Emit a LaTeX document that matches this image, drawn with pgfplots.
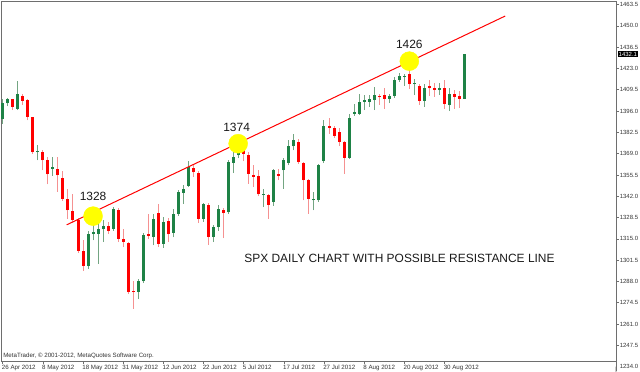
\documentclass[border=0pt]{standalone}
\usepackage{fontspec}
\setmainfont{Liberation Sans}
\usepackage{pgfplots}
\usepackage{pgfplotstable}
\pgfplotsset{compat=1.18}

\definecolor{bull}{RGB}{30,130,70}
\definecolor{bullwick}{RGB}{115,165,130}
\definecolor{bear}{RGB}{255,0,0}
\definecolor{bearwick}{RGB}{245,145,145}
\definecolor{frame}{RGB}{110,110,110}
\definecolor{hilite}{RGB}{255,255,0}

% bullish candles: index, open, high, low, close
\pgfplotstableread{
i O H L C
0 1391.2 1403.9 1388.0 1400.8
1 1400.8 1404.5 1399.0 1403.5
3 1397.6 1415.1 1396.5 1406.5
7 1370.0 1374.7 1364.8 1370.8
10 1359.2 1366.9 1355.0 1360.3
17 1298.1 1320.0 1296.0 1318.2
18 1318.0 1332.0 1314.0 1319.3
19 1318.2 1328.8 1299.2 1321.0
20 1321.0 1326.7 1312.9 1323.1
22 1321.4 1335.5 1320.0 1334.1
27 1281.2 1289.6 1276.9 1288.6
28 1288.1 1319.0 1287.0 1317.6
30 1316.1 1330.9 1310.8 1327.7
32 1311.8 1328.8 1309.3 1326.0
34 1318.8 1334.0 1316.0 1330.9
35 1330.9 1346.0 1329.5 1344.7
36 1344.2 1349.3 1337.2 1346.3
37 1348.5 1364.3 1347.8 1360.5
40 1327.7 1338.0 1326.0 1337.2
42 1316.1 1324.0 1312.9 1322.4
43 1322.4 1336.2 1320.0 1334.1
45 1332.0 1365.0 1331.0 1363.7
46 1363.2 1370.1 1356.7 1366.9
47 1367.9 1377.4 1366.0 1375.3
52 1343.0 1346.8 1335.1 1343.7
54 1338.3 1359.5 1336.0 1358.4
56 1358.4 1366.4 1346.8 1364.8
57 1363.1 1377.4 1361.6 1373.6
58 1373.6 1381.3 1371.1 1377.4
62 1339.4 1344.7 1333.0 1340.4
63 1339.4 1362.5 1338.5 1361.6
64 1364.3 1390.1 1363.0 1386.4
69 1366.4 1394.4 1365.5 1391.7
70 1394.4 1400.7 1393.0 1395.5
71 1394.4 1407.1 1393.5 1401.8
72 1401.8 1406.0 1396.5 1403.3
73 1401.8 1406.0 1398.6 1403.9
74 1402.9 1411.3 1396.5 1406.0
77 1403.5 1407.0 1401.0 1405.6
78 1405.6 1417.7 1404.5 1415.6
79 1415.6 1419.8 1414.5 1418.1
80 1417.7 1419.5 1412.0 1418.3
82 1413.0 1416.6 1406.0 1413.9
84 1402.4 1413.0 1398.6 1410.9
87 1409.2 1413.5 1406.0 1410.7
89 1399.7 1410.3 1396.0 1406.7
92 1403.9 1432.1 1403.5 1431.9
}\upc

% bearish candles
\pgfplotstableread{
i O H L C
2 1403.5 1403.8 1396.5 1398.6
4 1405.4 1406.5 1400.0 1402.4
5 1402.9 1403.5 1390.0 1392.3
6 1391.9 1392.5 1369.0 1370.0
8 1370.0 1371.0 1358.4 1364.8
9 1364.8 1366.9 1349.5 1355.9
11 1359.5 1366.9 1344.7 1355.2
12 1353.5 1358.0 1339.0 1340.4
13 1340.4 1346.8 1327.7 1333.0
14 1332.6 1343.6 1325.0 1326.7
15 1326.7 1328.0 1306.0 1307.6
16 1307.6 1314.0 1294.9 1298.1
21 1323.1 1326.0 1318.0 1319.9
23 1333.0 1334.5 1312.9 1315.0
24 1315.0 1321.4 1309.7 1312.9
25 1312.3 1313.0 1280.0 1281.2
26 1282.2 1288.6 1270.6 1281.2
29 1318.2 1330.9 1315.0 1316.7
31 1331.3 1337.2 1309.7 1311.8
33 1326.2 1328.0 1312.9 1317.8
38 1360.1 1361.6 1354.2 1357.1
39 1356.7 1358.0 1325.0 1327.7
41 1336.6 1337.5 1311.4 1316.1
44 1333.6 1334.5 1315.4 1331.3
48 1374.7 1376.0 1364.1 1369.0
49 1367.9 1370.1 1350.0 1356.3
50 1355.2 1361.6 1347.8 1354.2
51 1354.6 1358.4 1342.0 1343.2
53 1342.5 1343.5 1327.7 1336.6
55 1356.3 1359.5 1352.0 1355.0
59 1376.4 1378.0 1362.5 1363.7
60 1363.3 1364.0 1339.4 1352.1
61 1352.1 1353.0 1330.9 1340.4
65 1386.4 1391.8 1381.7 1385.5
66 1385.5 1386.4 1379.0 1380.2
67 1382.8 1385.0 1373.7 1376.4
68 1376.4 1377.0 1356.3 1366.4
75 1405.4 1407.0 1400.0 1404.6
76 1406.0 1410.3 1397.6 1403.9
81 1419.4 1426.1 1410.0 1413.0
83 1411.7 1413.0 1400.0 1402.4
85 1411.7 1415.6 1405.4 1410.3
86 1410.3 1413.9 1405.0 1409.2
88 1410.3 1415.6 1397.6 1400.3
90 1406.7 1409.2 1397.6 1405.0
91 1405.4 1408.8 1398.2 1403.9
}\downc

\begin{document}
\begin{tikzpicture}
\begin{axis}[
  at={(0,0)}, anchor=south west,
  scale only axis, width=614.5bp, height=360bp,
  xmin=-0.239, xmax=122.17, ymin=1237.6, ymax=1465.7,
  clip=false,
  axis line style={frame, line width=0.8bp},
  xtick pos=bottom, ytick pos=right,
  xticklabel pos=lower, yticklabel pos=right,
  tick align=outside, major tick length=3bp,
  tick style={frame, line width=0.6bp},
  xtick={0,8,16,24,32,40,48,56,64,72,80,88},
  xticklabels={26 Apr 2012,8 May 2012,18 May 2012,31 May 2012,12 Jun 2012,22 Jun 2012,5 Jul 2012,17 Jul 2012,27 Jul 2012,8 Aug 2012,20 Aug 2012,30 Aug 2012},
  xticklabel style={font=\fontsize{6.2}{7}\selectfont, anchor=north west, xshift=-1.5bp, inner sep=0.6bp, text=black!80},
  ytick={1247.5,1261,1274.5,1288,1301.5,1315,1328.5,1342,1355.5,1369,1382.5,1396,1409.5,1423,1436.5,1450,1463.5},
  yticklabels={1247.5,1261.0,1274.5,1288.0,1301.5,1315.0,1328.5,1342.0,1355.5,1369.0,1382.5,1396.0,1409.5,1423.0,1436.5,1450.0,1463.5},
  yticklabel style={font=\fontsize{6}{7}\selectfont, anchor=west, inner sep=0.6bp, text=black!80},
  candle/.style={draw=none, no marks, forget plot,
    error bars/y dir=plus, error bars/y explicit, error bars/error mark=none},
]
% highlight circles
\addplot[only marks, color=hilite, mark=*, mark size=9.5bp, forget plot]
  coordinates {(18,1329.4) (46.9,1375.3) (81,1427.6)};

% wicks
\addplot[candle, error bars/error bar style={draw=bullwick, line width=1bp}]
  table[x=i, y=L, y error plus expr=\thisrow{H}-\thisrow{L}] {\upc};
\addplot[candle, error bars/error bar style={draw=bearwick, line width=1bp}]
  table[x=i, y=L, y error plus expr=\thisrow{H}-\thisrow{L}] {\downc};

% bodies
\addplot[candle, error bars/error bar style={draw=bull, line width=3bp}]
  table[x=i, y=O, y error plus expr={max(\thisrow{C}-\thisrow{O},0.65)}] {\upc};
\addplot[candle, error bars/error bar style={draw=bear, line width=3bp}]
  table[x=i, y=C, y error plus expr={max(\thisrow{O}-\thisrow{C},0.65)}] {\downc};

% resistance line
\addplot[red, line width=1bp] coordinates {(12.75,1323.9) (100.1,1456.2)};

% annotations
\node[font=\fontsize{12}{14}\selectfont, text=black!90] at (axis cs:18,1341.9) {1328};
\node[font=\fontsize{12}{14}\selectfont, text=black!90] at (axis cs:46.6,1385.5) {1374};
\node[font=\fontsize{12}{14}\selectfont, text=black!90] at (axis cs:81,1438.2) {1426};
\node[font=\fontsize{12}{14}\selectfont, text=black!90] at (axis cs:79.04,1302.7) {SPX DAILY CHART WITH POSSIBLE RESISTANCE LINE};
\node[font=\fontsize{6.2}{7}\selectfont, text=black!80, anchor=west, inner sep=0.6bp] at (axis cs:-0.239,1240.75) [xshift=1bp] {MetaTrader, © 2001-2012, MetaQuotes Software Corp.};

% extended price scale and current price box
\draw[frame, line width=0.8bp] (axis cs:122.17,1237.6) -- (axis cs:122.17,1231.5);
\draw[frame, line width=0.6bp] (axis cs:122.17,1234) -- ++(3bp,0);
\node[font=\fontsize{6}{7}\selectfont, text=black!80, anchor=west, inner sep=0.6bp] at (axis cs:122.17,1234) [xshift=3bp] {1234.0};
\node[fill=black, text=white, font=\fontsize{6}{7}\selectfont, anchor=west, inner sep=1bp] at (axis cs:122.17,1432.1) [xshift=1.5bp] {1432.1};
\end{axis}
\pgfresetboundingbox
\path (-1.5bp,-11bp) rectangle (638.5bp,361bp);
\end{tikzpicture}
\end{document}
